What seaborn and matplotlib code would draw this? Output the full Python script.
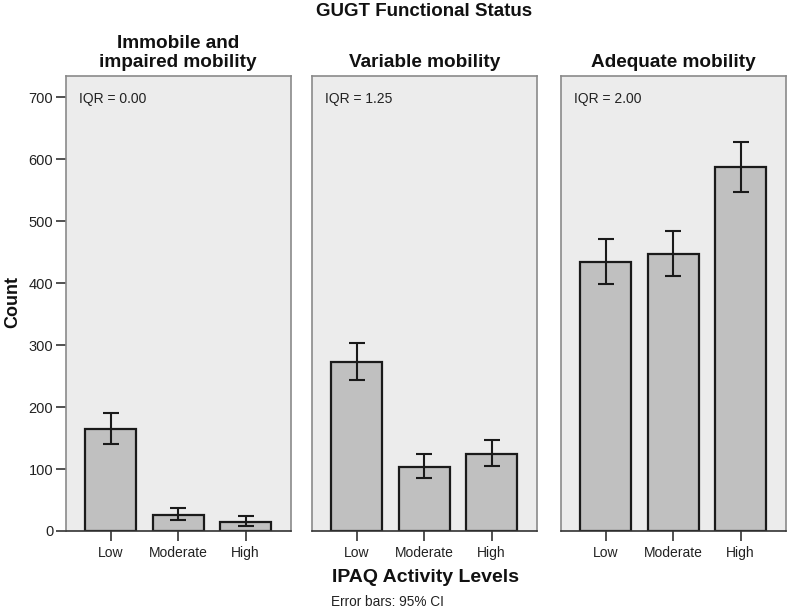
import numpy as np
import pandas as pd
import matplotlib
matplotlib.use("Agg")
import matplotlib.pyplot as plt
import seaborn as sns

# values
levels = ["Low", "Moderate", "High"]
panels = ["Immobile and\nimpaired mobility", "Variable mobility", "Adequate mobility"]
iqr_labels = ["IQR = 0.00", "IQR = 1.25", "IQR = 2.00"]
counts = [[164, 26, 14], [273, 104, 125], [435, 448, 587]]
ci_low = [[141, 17, 8], [243, 85, 105], [399, 412, 547]]
ci_high = [[190, 37, 24], [303, 124, 147], [472, 485, 628]]

sns.set_theme(style="white")
plt.rcParams['font.family'] = ['Liberation Sans', 'DejaVu Sans']
plt.rcParams['text.color'] = '#222222'

fig = plt.figure(figsize=(7.87, 6.16), dpi=100)
lefts = [0.0835, 0.396, 0.7125]
axes = []
for i, name in enumerate(panels):
    ax = fig.add_axes([lefts[i], 0.138, 0.286, 0.739])
    df = pd.DataFrame({'level': levels, 'count': counts[i]})
    sns.barplot(data=df, x='level', y='count', ax=ax, color='#c0c0c0',
                edgecolor='#1a1a1a', linewidth=1.6, width=0.76, saturation=1)
    means = np.array(counts[i])
    yerr = [means - np.array(ci_low[i]), np.array(ci_high[i]) - means]
    ax.errorbar(x=np.arange(3), y=means, yerr=yerr, fmt='none', ecolor='#1a1a1a',
                elinewidth=1.5, capsize=6, capthick=1.5)
    ax.set_facecolor('#ececec')
    ax.set_xlim(-0.67, 2.67)
    ax.set_ylim(0, 735)
    ax.set_xlabel('')
    ax.set_ylabel('')
    for s in ax.spines.values():
        s.set_color('#8a8a8a')
        s.set_linewidth(1.2)
    ax.spines['bottom'].set_color('#333333')
    ax.tick_params(axis='x', bottom=True, length=7, width=1.2, color='#333333',
                   labelsize=10, labelcolor='#222222', pad=4)
    ax.set_title(name, fontsize=13.7, fontweight='bold', pad=6, color='#111111')
    ax.text(0.06, 0.965, iqr_labels[i], transform=ax.transAxes, fontsize=10,
            va='top', ha='left', color='#222222')
    if i == 0:
        ax.set_yticks([0, 100, 200, 300, 400, 500, 600, 700])
        ax.tick_params(axis='y', left=True, length=7, width=1.2, color='#333333',
                       labelsize=10.5, labelcolor='#222222', pad=2)
    else:
        ax.set_yticks([])
    axes.append(ax)

fig.text(0.539, 0.981, 'GUGT Functional Status', ha='center', va='center',
         fontsize=13.5, fontweight='bold', color='#111111')
fig.text(0.016, 0.51, 'Count', rotation=90, ha='center', va='center',
         fontsize=13, fontweight='bold', color='#111111')
fig.text(0.541, 0.062, 'IPAQ Activity Levels', ha='center', va='center',
         fontsize=14, fontweight='bold', color='#111111')
fig.text(0.421, 0.023, 'Error bars: 95% CI', ha='left', va='center',
         fontsize=9.8, color='#222222')

fig.savefig('out.png', dpi=100)
